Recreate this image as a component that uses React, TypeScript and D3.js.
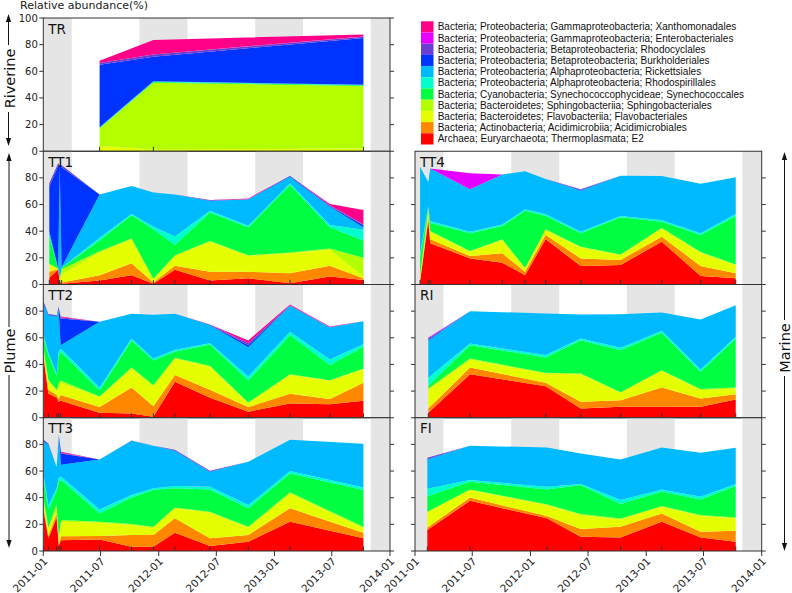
import React from "react";
import * as d3 from "d3";

// ---------- taxa (stack order, bottom -> top) ----------
const TAXA = [
  "Archaea; Euryarchaeota; Thermoplasmata; E2",
  "Bacteria; Actinobacteria; Acidimicrobiia; Acidimicrobiales",
  "Bacteria; Bacteroidetes; Flavobacteriia; Flavobacteriales",
  "Bacteria; Bacteroidetes; Sphingobacteriia; Sphingobacteriales",
  "Bacteria; Cyanobacteria; Synechococcophycideae; Synechococcales",
  "Bacteria; Proteobacteria; Alphaproteobacteria; Rhodospirillales",
  "Bacteria; Proteobacteria; Alphaproteobacteria; Rickettsiales",
  "Bacteria; Proteobacteria; Betaproteobacteria; Burkholderiales",
  "Bacteria; Proteobacteria; Betaproteobacteria; Rhodocyclales",
  "Bacteria; Proteobacteria; Gammaproteobacteria; Enterobacteriales",
  "Bacteria; Proteobacteria; Gammaproteobacteria; Xanthomonadales",
];
const COLORS = [
  "#ff0000", "#ff8800", "#e6ff00", "#b3ff00", "#00ff40", "#00ffcc",
  "#00baff", "#0033ff", "#6b3fd1", "#e600ff", "#ff0088",
];

// ---------- TR ----------
const TR_DATES = ["2011-06-28", "2011-12-15", "2013-10-09"];
const TR_VALUES = [
  [0, 0, 0],
  [0, 0, 0],
  [4, 1.5, 2],
  [13, 50, 47],
  [0.5, 0.5, 0.5],
  [0.2, 0.3, 0.3],
  [0.3, 0.2, 0.2],
  [47, 18.5, 35],
  [1.3, 1.7, 1],
  [0, 0, 0.2],
  [1.7, 10.8, 1.5],
];

// ---------- TT1 ----------
const TT1_DATES = ["2011-01-20", "2011-02-17", "2011-02-22", "2011-02-28", "2011-06-28", "2011-10-07", "2011-12-15", "2012-02-21", "2012-06-11", "2012-10-10", "2013-02-19", "2013-06-25", "2013-10-09"];
const TT1_VALUES = [
  [5, 11, 2, 0.5, 3, 7, 0.5, 11, 3, 4.6, 1, 6, 3.4],
  [4.5, 0.5, 0.5, 1, 4, 9, 1, 3, 6.6, 5, 7.4, 8, 1.2],
  [5.5, 0.5, 1.5, 6, 17, 18, 2.5, 7.4, 22.4, 11.8, 15, 12, 1.4],
  [0.5, 0, 0, 4, 1, 0.5, 0.5, 0.6, 0.6, 0.6, 0.6, 1, 14],
  [20.5, 0, 0.5, 1, 8, 17.5, 37, 7.6, 21.4, 21, 50.6, 16, 13],
  [1, 0, 0.5, 0, 2, 1, 2, 6.4, 1.4, 1, 1.3, 1.6, 8],
  [3, 0, 82, 0.5, 32.6, 21, 25.5, 31.6, 7.2, 20, 5, 13.8, 2],
  [33.5, 77, 2, 75, 0, 0, 0, 0, 0.3, 0, 0.6, 0.6, 1.5],
  [2.5, 2, 0.5, 1.5, 0, 0, 0, 0, 0.5, 0, 0, 0.4, 0.5],
  [0, 0, 0, 0, 0, 0, 0, 0, 0, 0, 0, 0, 0],
  [0, 0, 0, 0, 0, 0, 0, 0, 0, 0.6, 0, 1, 11],
];

// ---------- TT2 ----------
const TT2_DATES = ["2011-01-02", "2011-01-17", "2011-02-13", "2011-02-18", "2011-02-25", "2011-06-28", "2011-10-07", "2011-12-15", "2012-02-21", "2012-06-11", "2012-10-10", "2013-02-19", "2013-06-25", "2013-10-09"];
const TT2_VALUES = [
  [45, 18, 15, 12, 12.7, 3.7, 3.2, 0.7, 27, 15, 4.5, 10.7, 10.2, 12.7],
  [2, 3, 2, 2, 4.3, 4.3, 19.5, 8, 5, 6, 3.5, 7.3, 3.8, 13.5],
  [3, 7, 3, 8, 9, 7.7, 14.3, 15, 12.5, 17, 3, 14, 13.7, 10],
  [2, 0.5, 1, 4, 2, 0.3, 0.7, 0.8, 0.5, 1, 0.5, 0.7, 0.5, 0.8],
  [8, 18.5, 10, 20, 21.5, 4.7, 20.3, 18.5, 4.5, 16, 16.5, 29.3, 11.3, 16.2],
  [2, 2, 2, 3, 2.5, 1.8, 1.5, 1.5, 1.5, 1, 3, 2.5, 4.2, 2],
  [23, 28, 43, 33, 2.5, 49.5, 18.5, 32.8, 27, 13.5, 22, 19.5, 24, 17.3],
  [1.5, 0.3, 0.5, 1, 20, 0, 0, 0, 0, 0.3, 1.5, 0, 0, 0],
  [0.5, 0.5, 0.5, 0.5, 1, 0, 0, 0, 0, 0.2, 1.5, 0.5, 0.4, 0],
  [0, 0, 0, 0, 0, 0, 0, 0, 0, 0, 0, 0, 0, 0],
  [0, 0, 0, 0, 0.5, 0, 0, 0, 0, 0, 2, 0.5, 0.4, 0],
];

// ---------- TT3 ----------
const TT3_DATES = ["2011-01-02", "2011-01-17", "2011-02-12", "2011-02-19", "2011-02-26", "2011-06-28", "2011-10-07", "2011-12-15", "2012-02-21", "2012-06-11", "2012-10-10", "2013-02-19", "2013-10-09"];
const TT3_VALUES = [
  [30, 9.5, 25, 4, 8, 8.7, 3.2, 3.2, 13.7, 3.7, 7, 22, 9.5],
  [3, 2, 3, 1, 3, 2.5, 8.8, 8.8, 10.8, 5.8, 5, 10, 4.2],
  [4, 5, 5, 3, 11, 10, 7.5, 5.7, 7.5, 19.2, 5.7, 11.2, 3.3],
  [2, 1.5, 2, 3, 1.2, 0.8, 0.7, 0.5, 0.7, 0.8, 0.5, 0.8, 1.2],
  [15, 12.7, 10, 41, 30, 6.2, 20, 27.5, 14.3, 16.7, 13.8, 14.2, 27.5],
  [3, 3.8, 2, 3, 2.7, 3, 1.8, 1.3, 1.7, 2, 2.5, 1.8, 2],
  [25, 45.5, 16, 31, 8.8, 37.5, 40.7, 32, 26.5, 11, 32.5, 23.5, 32.8],
  [1, 0.5, 0, 1, 8.5, 0, 0, 0, 0.5, 0.5, 0, 0, 0],
  [0.5, 0.2, 0, 0, 0.5, 0, 0.3, 0, 0.3, 0.5, 0, 0, 0],
  [0, 0, 0, 0, 0, 0, 0, 0, 0, 0, 0, 0, 0],
  [0, 0, 0, 0, 0.8, 0, 0, 0, 0, 0, 0, 0, 0],
];

// ---------- TT4 ----------
const TT4_DATES = ["2011-01-17", "2011-02-12", "2011-02-18", "2011-06-24", "2011-10-04", "2011-12-15", "2012-02-18", "2012-06-08", "2012-10-12", "2013-02-19", "2013-06-22", "2013-10-11"];
const TT4_VALUES = [
  [2, 48, 31, 19.6, 16.4, 7, 33.9, 13.9, 14.6, 32.1, 6.4, 4.6],
  [1, 3, 3, 1.8, 7, 2.6, 3.2, 5.7, 3.8, 3.8, 7.5, 3.8],
  [2, 3, 5.6, 3.2, 10, 2.4, 3.8, 8.3, 3.7, 6.2, 10, 6.2],
  [2, 3, 0.5, 0.5, 0.5, 0.5, 0.5, 0.5, 0.5, 0.5, 0.5, 0.5],
  [14, 1, 6, 13.3, 10, 42.9, 10, 10, 27.8, 4.5, 12.7, 36.3],
  [2, 1, 1.5, 1.2, 1.2, 1, 1.5, 1.2, 1, 1.3, 1.3, 1.5],
  [65.4, 18, 39.4, 31.8, 37.5, 28.6, 26.2, 30.8, 30.2, 33, 37.2, 27.5],
  [0, 0, 0, 0, 0, 0, 0, 0.6, 0, 0, 0, 0],
  [0, 0, 0, 0, 0, 0, 0, 0.4, 0, 0, 0, 0],
  [0, 0, 0, 12, 0, 0, 0, 0, 0, 0, 0, 0],
  [0, 0, 0, 0, 0, 0, 0, 0, 0, 0, 0, 0],
];

// ---------- RI ----------
const RI_DATES = ["2011-02-12", "2011-06-24", "2012-02-18", "2012-06-08", "2012-10-12", "2013-02-19", "2013-06-22", "2013-10-11"];
const RI_VALUES = [
  [3.7, 32.7, 23.7, 7, 8.2, 8.2, 8.2, 13.7],
  [3.3, 5, 2.5, 5, 5, 14.5, 6.3, 4],
  [14, 6, 7, 20.7, 5.5, 12.5, 6.2, 4.3],
  [1, 0.7, 0.5, 0.5, 0.5, 0.5, 0.8, 0.7],
  [2, 10.1, 11.5, 25, 31.5, 28, 13, 36.8],
  [6, 1.2, 1.8, 1.3, 1.8, 1.5, 1.7, 1.2],
  [28, 24.3, 31.2, 18, 25.2, 13.8, 37.5, 23.8],
  [0.5, 0, 0, 0, 0, 0, 0, 0],
  [1, 0, 0, 0, 0, 0, 0, 0],
  [0.5, 0, 0, 0, 0, 0, 0, 0],
  [0, 0, 0, 0, 0, 0, 0, 0],
];

// ---------- FI ----------
const FI_DATES = ["2011-02-09", "2011-06-24", "2012-02-22", "2012-06-08", "2012-10-12", "2013-02-19", "2013-06-22", "2013-10-11"];
const FI_VALUES = [
  [15.7, 37.7, 24.5, 10.7, 10.2, 22, 10.2, 7],
  [2, 2.5, 1.7, 5.8, 8, 6.2, 4.3, 8.2],
  [11.5, 5.5, 8.3, 10.5, 5.5, 5, 11.7, 9.3],
  [0.3, 0.5, 0.5, 0.7, 0.7, 0.5, 0.8, 0.7],
  [11.5, 5.8, 11.2, 21.8, 10.8, 10.8, 11.7, 23.5],
  [5.7, 1.2, 2, 0.7, 3, 1.7, 2, 1.5],
  [22, 25.8, 29.5, 23, 30.5, 31.5, 33, 27.3],
  [0.3, 0, 0, 0, 0, 0, 0, 0],
  [1, 0, 0, 0, 0, 0, 0, 0],
  [0, 0, 0, 0, 0, 0, 0, 0],
  [0, 0, 0, 0, 0, 0, 0, 0],
];

// ---------- shaded periods ----------
const BAND_STARTS = ["2010-11-01", "2011-11-01", "2012-11-01", "2013-11-01"];
const BAND_ENDS = ["2011-04-01", "2012-04-01", "2013-04-01", "2014-04-01"];

const Y_TICKS = [0, 20, 40, 60, 80, 100];
const X_DOMAIN = ["2011-01-01", "2014-01-01"];

const parse = d3.timeParse("%Y-%m-%d");
const FONT = "DejaVu Sans, sans-serif";
const AXIS = "#333";

const COLS = [
  [43.3, 390],
  [415, 761.7],
];
const TOP = 18;
const PH = 133.25;

const PANELS = [
  { name: "TR", dates: TR_DATES, values: TR_VALUES, col: 0, row: 0 },
  { name: "TT1", dates: TT1_DATES, values: TT1_VALUES, col: 0, row: 1 },
  { name: "TT2", dates: TT2_DATES, values: TT2_VALUES, col: 0, row: 2 },
  { name: "TT3", dates: TT3_DATES, values: TT3_VALUES, col: 0, row: 3 },
  { name: "TT4", dates: TT4_DATES, values: TT4_VALUES, col: 1, row: 1 },
  { name: "RI", dates: RI_DATES, values: RI_VALUES, col: 1, row: 2 },
  { name: "FI", dates: FI_DATES, values: FI_VALUES, col: 1, row: 3 },
];

function Panel({ p }: { p: any }) {
  const [xl, xr] = COLS[p.col];
  const top = TOP + p.row * PH;
  const bottom = top + PH;
  const x = d3.scaleTime().domain(X_DOMAIN.map((s) => parse(s)!)).range([xl, xr]);
  const y = d3.scaleLinear().domain([0, 100]).range([bottom, top]);
  const dates = p.dates.map((s: string) => parse(s)!);
  const rows = dates.map((d: Date, i: number) => {
    const o: any = { date: d };
    p.values.forEach((r: number[], k: number) => (o[k] = r[i]));
    return o;
  });
  const keys = d3.range(TAXA.length);
  const series = d3.stack<any, number>().keys(keys).value((d, k) => d[k])(rows);
  const area = d3
    .area<any>()
    .x((d) => x(d.data.date))
    .y0((d) => y(d[0]))
    .y1((d) => y(d[1]));
  const clipId = "clip-" + p.name;
  const ticks = p.row === 0 ? Y_TICKS : Y_TICKS.slice(0, 5);
  const isBottom = p.row === 3;
  const xTicks = x.ticks(d3.timeMonth.every(6)!);
  const fmt = d3.timeFormat("%Y-%m");
  return (
    <g>
      <defs>
        <clipPath id={clipId}>
          <rect x={xl} y={top} width={xr - xl} height={PH} />
        </clipPath>
      </defs>
      <g clipPath={`url(#${clipId})`}>
        {BAND_STARTS.map((s, i) => {
          const a = Math.max(xl, x(parse(s)!));
          const b = Math.min(xr, x(parse(BAND_ENDS[i])!));
          return <rect key={i} x={a} y={top} width={Math.max(0, b - a)} height={PH} fill="#e5e5e5" />;
        })}
        {series.map((s, k) => (
          <path key={k} d={area(s as any) || ""} fill={COLORS[k]} />
        ))}
        {dates.map((d: Date, i: number) => (
          <line key={i} x1={x(d)} x2={x(d)} y1={bottom} y2={bottom - 4.5} stroke={AXIS} strokeWidth={1} />
        ))}
      </g>
      <text x={xl + 5} y={top + 15.5} fontFamily={FONT} fontSize={13.5} fill="#111">
        {p.name}
      </text>
      <rect x={xl} y={top} width={xr - xl} height={PH} fill="none" stroke={AXIS} strokeWidth={1} />
      {ticks.map((t) => (
        <g key={t}>
          <line x1={xl - 4} x2={xl} y1={y(t)} y2={y(t)} stroke={AXIS} />
          <line x1={xr} x2={xr + 4} y1={y(t)} y2={y(t)} stroke={AXIS} />
          {p.col === 0 && (
            <text x={xl - 5.5} y={y(t)} dy="0.35em" textAnchor="end" fontFamily={FONT} fontSize={10} fill="#222">
              {t}
            </text>
          )}
        </g>
      ))}
      {isBottom &&
        xTicks.map((t, i) => (
          <g key={i}>
            <line x1={x(t)} x2={x(t)} y1={bottom} y2={bottom + 5} stroke={AXIS} />
            <text
              transform={`translate(${x(t) + 5},${bottom + 11}) rotate(-45)`}
              textAnchor="end"
              fontFamily={FONT}
              fontSize={10.5}
              fill="#222"
            >
              {fmt(t)}
            </text>
          </g>
        ))}
    </g>
  );
}

function VArrow({ x, tipTop, tipBottom, gapTop, gapBottom, label, tx }: any) {
  const hw = 2.6;
  const hl = 8;
  return (
    <g>
      <line x1={x} x2={x} y1={tipTop + hl - 1} y2={gapTop} stroke="#111" strokeWidth={1} />
      <line x1={x} x2={x} y1={gapBottom} y2={tipBottom - hl + 1} stroke="#111" strokeWidth={1} />
      <path d={`M${x},${tipTop} L${x - hw},${tipTop + hl} L${x + hw},${tipTop + hl} Z`} fill="#111" />
      <path d={`M${x},${tipBottom} L${x - hw},${tipBottom - hl} L${x + hw},${tipBottom - hl} Z`} fill="#111" />
      <text
        transform={`translate(${tx},${(gapTop + gapBottom) / 2}) rotate(-90)`}
        textAnchor="middle"
        fontFamily={FONT}
        fontSize={14.5}
        fill="#111"
      >
        {label}
      </text>
    </g>
  );
}

export default function App() {
  const legendOrder = d3.range(TAXA.length).reverse();
  return (
    <svg width={792} height={593} style={{ position: "absolute", left: 0, top: 0, background: "#fff" }}>
      <rect x={0} y={0} width={792} height={593} fill="#fff" />
      <text x={20} y={9} fontFamily={FONT} fontSize={11} fill="#222">
        Relative abundance(%)
      </text>
      {PANELS.map((p) => (
        <Panel key={p.name} p={p} />
      ))}
      <g>
        {legendOrder.map((k, i) => (
          <g key={k}>
            <rect x={421} y={21.3 + i * 11.2} width={12.5} height={11.2} fill={COLORS[k]} />
            <text
              x={437.7}
              y={21.3 + i * 11.2 + 5.6}
              dy="0.35em"
              fontFamily="Liberation Sans, Arial, sans-serif"
              fontSize={10}
              fill="#111"
            >
              {TAXA[k]}
            </text>
          </g>
        ))}
      </g>
      <VArrow x={8.5} tipTop={14} tipBottom={146} gapTop={45} gapBottom={112} label="Riverine" tx={14.5} />
      <VArrow x={9} tipTop={153} tipBottom={548} gapTop={327} gapBottom={375} label="Plume" tx={14.5} />
      <VArrow x={784.5} tipTop={152} tipBottom={551} gapTop={320} gapBottom={376} label="Marine" tx={789.5} />
    </svg>
  );
}
